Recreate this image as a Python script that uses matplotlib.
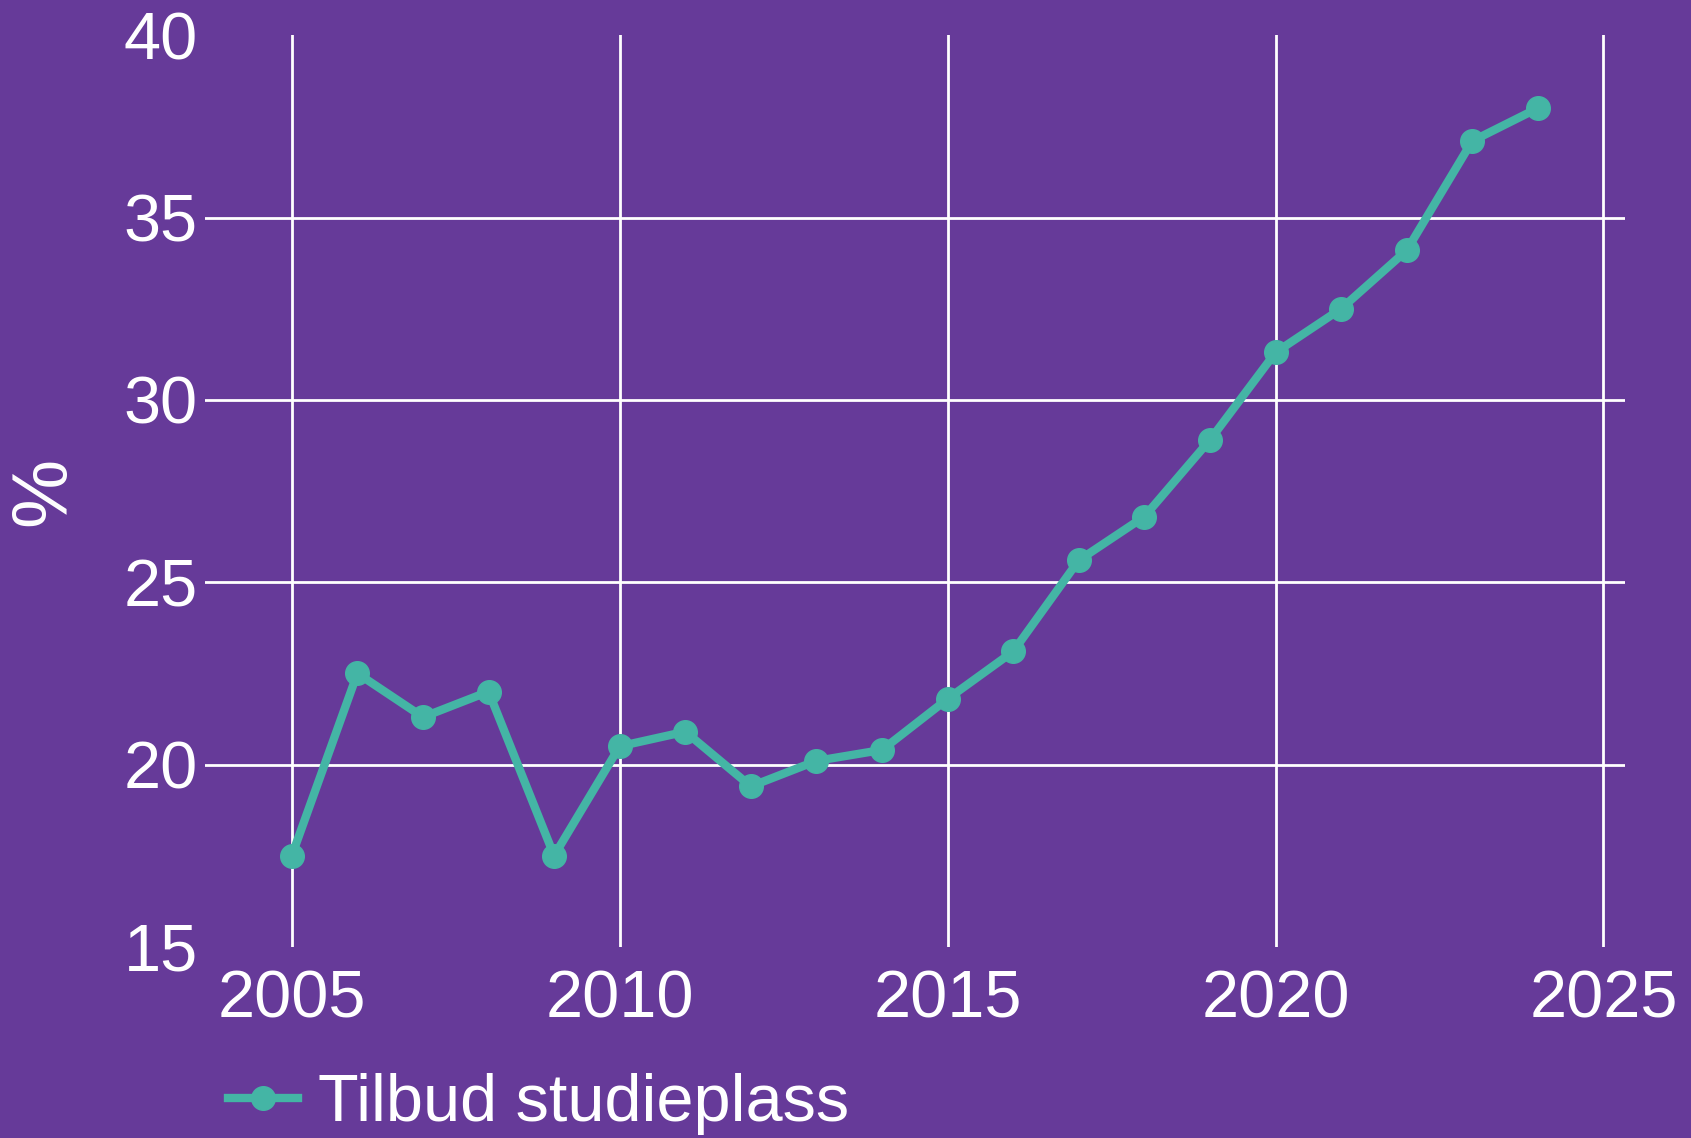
import matplotlib.pyplot as plt

years = [2005, 2006, 2007, 2008, 2009, 2010, 2011, 2012, 2013, 2014,
         2015, 2016, 2017, 2018, 2019, 2020, 2021, 2022, 2023, 2024]
tilbud = [17.5, 22.5, 21.3, 22.0, 17.5, 20.5, 20.9, 19.4, 20.1, 20.4,
          21.8, 23.1, 25.6, 26.8, 28.9, 31.3, 32.5, 34.1, 37.1, 38.0]
xticks = [2005, 2010, 2015, 2020, 2025]
yticks = [15, 20, 25, 30, 35, 40]

bg = '#663a99'
green = '#44b5a5'

plt.rcParams['font.family'] = ['Liberation Sans', 'DejaVu Sans']

fig = plt.figure(figsize=(16.91, 11.38), dpi=100, facecolor=bg)
ax = fig.add_axes([0.121, 0.168, 0.840, 0.801])
ax.set_facecolor(bg)

ax.plot(years, tilbud, color=green, lw=6, marker='o', ms=17,
        label='Tilbud studieplass', zorder=3)

ax.set_xlim(2003.67, 2025.33)
ax.set_ylim(15, 40)
ax.set_xticks(xticks)
ax.set_yticks(yticks)
ax.grid(True, color='white', lw=2)
ax.set_axisbelow(True)
# no lines at the top and bottom edge
ygl = ax.yaxis.get_gridlines()
ygl[0].set_visible(False)
ygl[-1].set_visible(False)

for s in ax.spines.values():
    s.set_visible(False)
ax.tick_params(length=0, labelsize=48, colors='white')
ax.tick_params(axis='x', pad=16)
ax.tick_params(axis='y', pad=5)
ax.set_ylabel('%', fontsize=56, color='white', labelpad=30)

fig.legend(loc='center left', bbox_to_anchor=(0.119, 0.03), frameon=False,
           fontsize=48, labelcolor='white', handlelength=1.05,
           handletextpad=0.3, borderaxespad=0)

fig.savefig('out.png', dpi=100, facecolor=bg)
